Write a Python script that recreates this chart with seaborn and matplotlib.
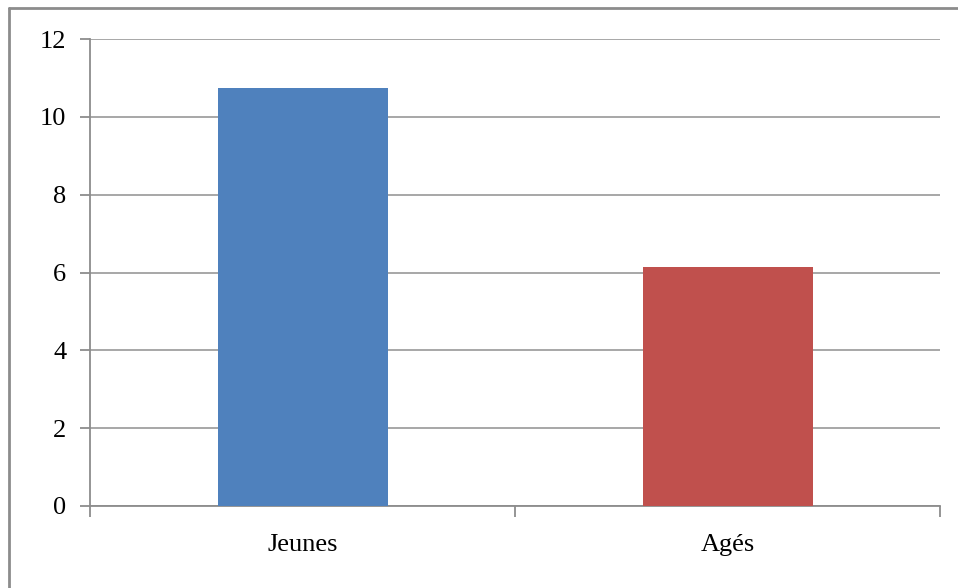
import matplotlib
matplotlib.use("Agg")
import matplotlib.pyplot as plt
import seaborn as sns
from matplotlib.lines import Line2D

groupes = ["Jeunes", "Agés"]
valeurs = [10.75, 6.13]
couleurs = ["#4F81BD", "#C0504D"]
graduations = [0, 2, 4, 6, 8, 10, 12]

sns.set_style("white")
plt.rcParams["font.family"] = ["Liberation Serif", "DejaVu Serif"]
plt.rcParams["text.color"] = "black"
plt.rcParams["xtick.color"] = "#8C8C8C"
plt.rcParams["ytick.color"] = "#8C8C8C"
plt.rcParams["xtick.labelcolor"] = "black"
plt.rcParams["ytick.labelcolor"] = "black"

W, H = 958, 588
fig = plt.figure(figsize=(W / 100, H / 100), dpi=100)
ax = fig.add_axes([90 / W, (H - 506) / H, 850 / W, (506 - 39) / H])

sns.barplot(x=groupes, y=valeurs, hue=groupes, palette=couleurs, width=0.4,
            saturation=1, legend=False, linewidth=0, ax=ax, zorder=3)

ax.set_xlim(-0.5, 1.5)
ax.set_ylim(0, 12)
ax.set_yticks(graduations)
ax.set_yticklabels([str(g) for g in graduations], fontsize=19)
ax.grid(axis="y", color="#A0A0A0", linewidth=1.3, zorder=0)
ax.set_axisbelow(True)

# x ticks at the category boundaries, labels in between
ax.set_xticks([0, 1])
ax.set_xticklabels(groupes, fontsize=19)
ax.set_xticks([-0.5, 0.5, 1.5], minor=True)
ax.tick_params(axis="x", which="major", bottom=True, length=0, pad=20)
ax.tick_params(axis="x", which="minor", bottom=True, length=8, width=1.3, direction="out")
ax.tick_params(axis="y", left=True, length=7, width=1.3, direction="out", pad=10)

for s in ["top", "right"]:
    ax.spines[s].set_visible(False)
for s in ["left", "bottom"]:
    ax.spines[s].set_color("#8C8C8C")
    ax.spines[s].set_linewidth(1.3)
ax.set_xlabel("")
ax.set_ylabel("")

# chart area border (only top and left visible in the crop)
fig.add_artist(Line2D([9 / W, 9 / W], [0, 1 - 8 / H], transform=fig.transFigure,
                      color="#8C8C8C", linewidth=2))
fig.add_artist(Line2D([9 / W, 1], [1 - 8 / H, 1 - 8 / H], transform=fig.transFigure,
                      color="#8C8C8C", linewidth=2))

fig.savefig("out.png", dpi=100)
